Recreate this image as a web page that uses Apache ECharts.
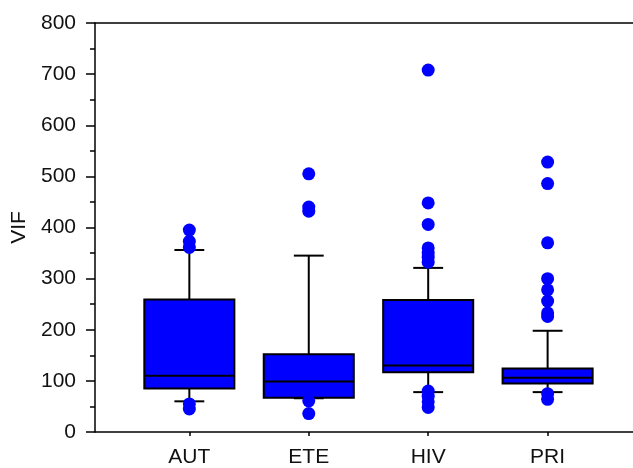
<!DOCTYPE html>
<html>
<head>
<meta charset="utf-8">
<script src="https://cdn.jsdelivr.net/npm/echarts@6/dist/echarts.min.js"></script>
<style>
	html, body { margin: 0; padding: 0; background: #fff; }
	#chart1 { width: 633px; height: 468px; }
</style>
</head>
<body>
<div id="chart1"></div>
<script>
// categories and box statistics
var categories = [ 'AUT', 'ETE', 'HIV', 'PRI' ];
var whiskerLow = [ 60, 66, 78, 78 ];
var q1Values = [ 85, 67, 117, 95 ];
var medianValues = [ 110, 99, 130, 106 ];
var q3Values = [ 259, 152, 258, 124 ];
var whiskerHigh = [ 356, 345, 321, 198 ];
// outliers per category
var outlierValues = [
	[ 395, 373, 361, 55, 45 ],
	[ 505, 440, 432, 61, 36 ],
	[ 708, 448, 406, 360, 350, 342, 332, 80, 70, 59, 48 ],
	[ 528, 486, 370, 300, 278, 256, 233, 226, 75, 64 ]
];

var X_MIN = 0.21;
var X_MAX = 4.715;
var BOX_W = 0.754;
var CAP_W = 0.25;
var FONT = 'Liberation Sans, Arial, sans-serif';

$ready();

function $ready() {
	initBoxChart();
}

// one box: whiskers, caps, box, median
function renderBox(params, api) {
	var x = api.value(0);
	var pMin = api.coord([ x, api.value(1) ]);
	var pQ1 = api.coord([ x, api.value(2) ]);
	var pMed = api.coord([ x, api.value(3) ]);
	var pQ3 = api.coord([ x, api.value(4) ]);
	var pMax = api.coord([ x, api.value(5) ]);
	var half = api.size([ BOX_W, 0 ])[0] / 2;
	var cap = api.size([ CAP_W, 0 ])[0] / 2;
	var lineStyle = { stroke : '#000', lineWidth : 2, fill : null };
	return {
		type : 'group',
		children : [ {
			type : 'line',
			shape : { x1 : pMax[0], y1 : pMax[1], x2 : pQ3[0], y2 : pQ3[1] },
			style : lineStyle
		}, {
			type : 'line',
			shape : { x1 : pMin[0], y1 : pMin[1], x2 : pQ1[0], y2 : pQ1[1] },
			style : lineStyle
		}, {
			type : 'line',
			shape : { x1 : pMax[0] - cap, y1 : pMax[1], x2 : pMax[0] + cap, y2 : pMax[1] },
			style : lineStyle
		}, {
			type : 'line',
			shape : { x1 : pMin[0] - cap, y1 : pMin[1], x2 : pMin[0] + cap, y2 : pMin[1] },
			style : lineStyle
		}, {
			type : 'rect',
			shape : { x : pQ3[0] - half, y : pQ3[1], width : half * 2, height : pQ1[1] - pQ3[1] },
			style : { fill : '#0000ff', stroke : '#000', lineWidth : 2 }
		}, {
			type : 'line',
			shape : { x1 : pMed[0] - half, y1 : pMed[1], x2 : pMed[0] + half, y2 : pMed[1] },
			style : lineStyle
		} ]
	};
}

function initBoxChart() {
	var myChart = echarts.init(document.getElementById('chart1'));
	var boxData = [];
	var pointData = [];
	for (var i = 0; i < categories.length; i++) {
		boxData.push([ i + 1, whiskerLow[i], q1Values[i], medianValues[i], q3Values[i], whiskerHigh[i] ]);
		for (var j = 0; j < outlierValues[i].length; j++) {
			pointData.push([ i + 1, outlierValues[i][j] ]);
		}
	}
	var option = {
		backgroundColor : '#fff',
		animation : false,
		grid : {
			left : 95,
			top : 23,
			bottom : 35,
			right : 0,
			show : false
		},
		xAxis : [ {
			type : 'value',
			min : X_MIN,
			max : X_MAX,
			splitLine : { show : false },
			axisLine : { show : true, lineStyle : { color : '#000', width : 1.5 } },
			axisTick : { show : true, length : 4, customValues : [ 1, 2, 3, 4 ], lineStyle : { color : '#000', width : 1.5 } },
			axisLabel : {
				customValues : [ 1, 2, 3, 4 ],
				formatter : function(v) { return categories[Math.round(v) - 1] || ''; },
				color : '#111',
				fontSize : 21,
				fontFamily : FONT,
				margin : 15
			}
		}, {
			// top frame line
			type : 'value',
			position : 'top',
			min : X_MIN,
			max : X_MAX,
			splitLine : { show : false },
			axisLine : { show : true, lineStyle : { color : '#000', width : 1.5 } },
			axisTick : { show : false },
			axisLabel : { show : false }
		} ],
		yAxis : {
			type : 'value',
			min : 0,
			max : 800,
			interval : 100,
			name : 'VIF',
			nameLocation : 'middle',
			nameGap : 63,
			nameTextStyle : { color : '#111', fontSize : 21, fontFamily : FONT },
			splitLine : { show : false },
			axisLine : { show : true, lineStyle : { color : '#000', width : 1.5 } },
			axisTick : { show : true, length : 9, lineStyle : { color : '#000', width : 1.5 } },
			minorTick : { show : true, splitNumber : 2, length : 5, lineStyle : { color : '#000', width : 1.5 } },
			axisLabel : {
				color : '#111',
				fontSize : 21,
				fontFamily : FONT,
				margin : 19
			}
		},
		series : [ {
			name : 'box',
			type : 'custom',
			renderItem : renderBox,
			encode : { x : 0, y : [ 1, 2, 3, 4, 5 ] },
			data : boxData,
			z : 2
		}, {
			name : 'outliers',
			type : 'scatter',
			symbol : 'circle',
			symbolSize : 13,
			itemStyle : { color : '#0000ff', opacity : 1 },
			data : pointData,
			z : 3
		} ]
	};
	myChart.setOption(option);
}
</script>
</body>
</html>
